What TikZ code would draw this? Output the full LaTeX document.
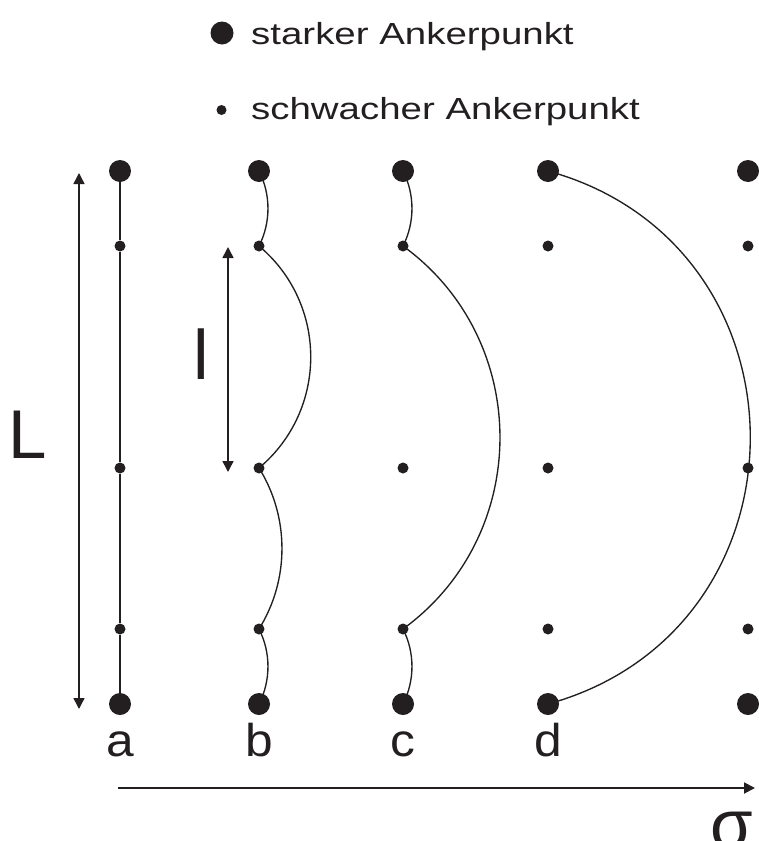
\documentclass[tikz,border=0pt]{standalone}
\usepackage{fontspec}
\setmainfont{Liberation Sans}
\newfontfamily\legendfont{Liberation Sans}[FakeStretch=1.26]
\newfontfamily\labelfont{Liberation Sans}[FakeStretch=1.08]
\usetikzlibrary{arrows.meta}
\definecolor{ink}{HTML}{231F20}
\begin{document}
\begin{tikzpicture}[x=1pt,y=-1pt,
  strong/.style={circle,fill=ink,inner sep=0pt,minimum size=22pt},
  weak/.style={circle,fill=ink,inner sep=0pt,minimum size=11pt},
  chain/.style={draw=ink,line width=1.35pt},
  dimline/.style={draw=ink,line width=1.5pt,{Triangle[length=11pt,width=11pt]}-{Triangle[length=11pt,width=11pt]}},
  axisline/.style={draw=ink,line width=1.9pt,-{Triangle[length=11pt,width=11pt]}},
  txt/.style={inner sep=0pt,text=ink}
]
\useasboundingbox (0,0) rectangle (758,841);

% legend
\node[strong,minimum size=23pt] (kstrong) at (222,33) {};
\node[weak,minimum size=10pt] (kweak) at (221.5,110) {};
\node[txt,anchor=base west] (tstrong) at (251,44)
  {\legendfont\fontsize{30.5}{36}\selectfont starker Ankerpunkt};
\node[txt,anchor=base west] (tweak) at (251,119)
  {\legendfont\fontsize{30.5}{36}\selectfont schwacher Ankerpunkt};

% anchor points: columns a--e, rows 1--5
\foreach \c/\x in {a/120,b/259,c/403,d/548,e/748}{
  \node[strong] (\c1) at (\x,171) {};
  \node[weak]   (\c2) at (\x,246) {};
  \node[weak]   (\c3) at (\x,468) {};
  \node[weak]   (\c4) at (\x,629) {};
  \node[strong] (\c5) at (\x,704) {};
}

% column a: straight chain
\draw[chain] (a1) -- (a2) -- (a3) -- (a4) -- (a5);

% column b: all weak points hold
\draw[chain] (b1.center) to[bend left=27,looseness=0.90] (b2.center);
\draw[chain] (b2.center) to[bend left=50,looseness=1.04] (b3.center);
\draw[chain] (b3.center) to[bend left=32,looseness=0.92] (b4.center);
\draw[chain] (b4.center) to[bend left=27,looseness=0.90] (b5.center);

% column c: middle point released
\draw[chain] (c1.center) to[bend left=27,looseness=0.90] (c2.center);
\draw[chain] (c2.center) to[bend left=54,looseness=1.07] (c4.center);
\draw[chain] (c4.center) to[bend left=27,looseness=0.90] (c5.center);

% column d: only strong points hold
\draw[chain] (d1.center) to[bend left=74.6,looseness=1.346] (d5.center);

% dimension arrows
\coordinate (Ltop) at (79,173);
\coordinate (Lbot) at (79,709);
\draw[dimline] (Ltop) -- (Lbot);
\coordinate (ltop) at (228,247);
\coordinate (lbot) at (228,472);
\draw[dimline] (ltop) -- (lbot);
\node[txt,anchor=base west] (Llab) at (8,458) {\fontsize{69}{80}\selectfont L};
\node[txt,anchor=base west] (llab) at (193,379) {\fontsize{70}{80}\selectfont l};

% column labels
\foreach \c/\x in {a/120,b/259,c/403,d/548}{
  \node[txt,anchor=base] (lab\c) at (\x,756) {\labelfont\fontsize{46}{52}\selectfont \c};
}

% stress axis
\coordinate (sstart) at (118,788);
\coordinate (send) at (755,788);
\draw[axisline] (sstart) -- (send);
\node[txt,anchor=base west] (sigma) at (710,848.5) {\fontsize{69}{80}\selectfont σ};
\end{tikzpicture}
\end{document}
